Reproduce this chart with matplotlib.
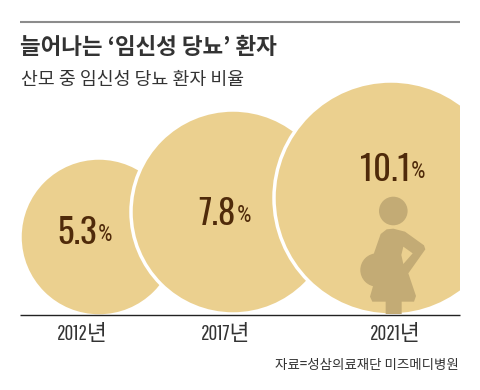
import numpy as np
import matplotlib
matplotlib.use('Agg')
import matplotlib.pyplot as plt
from matplotlib.patches import Circle, PathPatch, Rectangle
from matplotlib.path import Path

plt.rcParams['font.family'] = ['Noto Sans CJK KR', 'DejaVu Sans']

# data
years = ['2012년', '2017년', '2021년']
shares = [5.3, 7.8, 10.1]

title = '늘어나는 ‘임신성 당뇨’ 환자'
subtitle = '산모 중 임신성 당뇨 환자 비율'
source = '자료=성삼의료재단 미즈메디병원'

# layout in pixels, y going down
centers = [(99, 237), (233, 212), (391, 198)]
radii = [79, 102, 117]
label_x = [77, 217, 385]
label_y = [233, 214, 170]
year_x = [82, 225, 395]

GOLD = '#ebd08f'
FIGURE = '#c3ab75'
BROWN = '#4f2a0a'
NUMS = ['Oswald', 'Noto Sans CJK KR']
YEARS = ['Pathway Gothic One', 'Noto Sans CJK KR']
PCT = ['Roboto Condensed', 'Noto Sans CJK KR']

fig = plt.figure(figsize=(4.8, 3.9), dpi=100)
ax = fig.add_axes([0, 0, 1, 1])
ax.set_xlim(0, 480)
ax.set_ylim(390, 0)
ax.axis('off')

clip = Rectangle((20, 0), 440, 315, transform=ax.transData)
for (cx, cy), r in zip(centers, radii):
    c = Circle((cx, cy), r, facecolor=GOLD, edgecolor='white', linewidth=2.5)
    ax.add_patch(c)
    c.set_clip_path(clip)

# pregnant woman, third circle
head = Circle((393.3, 211), 14.3, facecolor=FIGURE, edgecolor='none')
ax.add_patch(head)
belly = Circle((377, 270), 16.7, facecolor=FIGURE, edgecolor='none')
ax.add_patch(belly)


def zoomed(pts):
    return [(340 + x / 3, 140 + y / 3) for x, y in pts]


body = zoomed([(160, 266), (195, 275), (252, 316), (256, 328), (205, 400), (228, 468),
               (222, 485), (185, 485), (185, 522), (137, 522), (137, 485), (97, 485),
               (90, 470), (100, 435), (85, 400), (100, 345), (122, 282), (140, 268), (160, 266)])
hole = zoomed([(190, 320), (184, 345), (190, 372), (218, 340), (190, 320)])
verts = body + hole
codes = [Path.MOVETO] + [Path.LINETO] * (len(body) - 1) + [Path.MOVETO] + [Path.LINETO] * (len(hole) - 1)
ax.add_patch(PathPatch(Path(verts, codes), facecolor=FIGURE, edgecolor='none'))

# rules
ax.plot([20, 460], [22, 22], color='#8c8c8c', lw=1.5, solid_capstyle='butt')
ax.plot([20, 460], [315, 315], color='#222222', lw=1, solid_capstyle='butt')

# titles
ax.text(20, 48, title, fontsize=16.2, fontweight='bold', color='#333333', ha='left', va='center')
ax.text(21, 80, subtitle, fontsize=13.2, color='#333333', ha='left', va='center')
ax.text(459, 365, source, fontsize=9.7, color='#333333', ha='right', va='center')

for x, y, v, yr, yx in zip(label_x, label_y, shares, years, year_x):
    t = ax.text(x, y, f'{v}', fontsize=25, fontweight=600, color=BROWN, family=NUMS, ha='center', va='center')
    ax.annotate('%', xy=(1, 0), xycoords=t, xytext=(0.5, 3), textcoords='offset points',
                fontsize=16.5, color=BROWN, family=PCT, ha='left', va='bottom')
    ax.text(yx, 334, yr, fontsize=15.5, color='#333333', family=YEARS, ha='center', va='center')

fig.savefig('out.png', dpi=100)
